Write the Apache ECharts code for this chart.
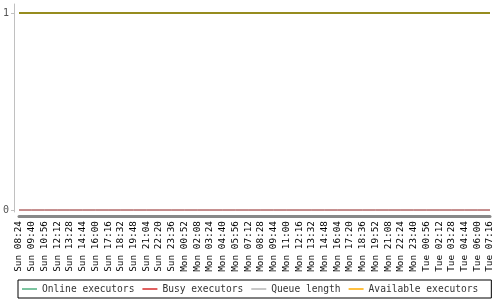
<!DOCTYPE html>
<html>
<head>
<meta charset="utf-8">
<script src="https://cdn.jsdelivr.net/npm/echarts@6/dist/echarts.min.js"></script>
<style>html,body{margin:0;padding:0;background:#fff}#c{width:500px;height:300px}</style>
</head>
<body>
<div id="c"></div>
<script>
const categories = ["Sun 08:24","Sun 09:40","Sun 10:56","Sun 12:12","Sun 13:28","Sun 14:44","Sun 16:00","Sun 17:16","Sun 18:32","Sun 19:48","Sun 21:04","Sun 22:20","Sun 23:36","Mon 00:52","Mon 02:08","Mon 03:24","Mon 04:40","Mon 05:56","Mon 07:12","Mon 08:28","Mon 09:44","Mon 11:00","Mon 12:16","Mon 13:32","Mon 14:48","Mon 16:04","Mon 17:20","Mon 18:36","Mon 19:52","Mon 21:08","Mon 22:24","Mon 23:40","Tue 00:56","Tue 02:12","Tue 03:28","Tue 04:44","Tue 06:00","Tue 07:16"];
const onlineExecutors = [1,1,1,1,1,1,1,1,1,1,1,1,1,1,1,1,1,1,1,1,1,1,1,1,1,1,1,1,1,1,1,1,1,1,1,1,1,1];
const busyExecutors = [0,0,0,0,0,0,0,0,0,0,0,0,0,0,0,0,0,0,0,0,0,0,0,0,0,0,0,0,0,0,0,0,0,0,0,0,0,0];
const queueLength = [0,0,0,0,0,0,0,0,0,0,0,0,0,0,0,0,0,0,0,0,0,0,0,0,0,0,0,0,0,0,0,0,0,0,0,0,0,0];
const availableExecutors = [1,1,1,1,1,1,1,1,1,1,1,1,1,1,1,1,1,1,1,1,1,1,1,1,1,1,1,1,1,1,1,1,1,1,1,1,1,1];
const yTicks = [0, 1];
const seriesNames = ["Online executors","Busy executors","Queue length","Available executors"];
const legendColors = ["#7cc4a0","#e06060","#c8c8c8","#ffc040"];

const mono = "DejaVu Sans Mono";
const chart = echarts.init(document.getElementById('c'), null, {renderer:'canvas'});
chart.setOption({
  animation: false,
  grid: {left: 19, right: 10, top: 4, bottom: 88, containLabel: false},
  xAxis: {
    type: 'category', boundaryGap: false, data: categories,
    offset: 4,
    axisLine: {show: true, onZero: false, lineStyle: {color: '#888', width: 3}},
    axisTick: {show: false},
    axisLabel: {interval: 0, rotate: 90, fontFamily: mono, fontSize: 9.4, color: '#000', margin: 5},
    splitLine: {show: false}
  },
  yAxis: {
    type: 'value', min: -0.01, max: 1.046, offset: 5,
    axisLine: {show: true, lineStyle: {color: '#c0c0c0', width: 1}},
    axisTick: {show: true, customValues: yTicks, length: 3, lineStyle: {color: '#c0c0c0'}},
    axisLabel: {customValues: yTicks, fontFamily: mono, fontSize: 10, color: '#555', margin: 5},
    splitLine: {show: false}
  },
  legend: {
    orient: 'horizontal',
    left: 18, bottom: 2, width: 474,
    data: seriesNames.map((n, i) => ({name: n, icon: 'rect', itemStyle: {color: legendColors[i]}})),
    itemWidth: 15, itemHeight: 2, itemGap: 8,
    borderColor: '#000', borderWidth: 1, borderRadius: 0,
    padding: [4, 13, 4, 4],
    textStyle: {fontFamily: mono, fontSize: 9.6, color: '#333'}
  },
  series: [
    {name: seriesNames[0], type: 'line', data: onlineExecutors, showSymbol: false, symbol: 'none', z: 2,
     lineStyle: {color: '#3c9a6e', width: 2}, itemStyle: {color: legendColors[0]}},
    {name: seriesNames[2], type: 'line', data: queueLength, showSymbol: false, symbol: 'none', z: 2,
     lineStyle: {color: '#a0a0a0', width: 1}, itemStyle: {color: legendColors[2]}},
    {name: seriesNames[1], type: 'line', data: busyExecutors, showSymbol: false, symbol: 'none', z: 3,
     lineStyle: {color: '#b84a4a', width: 1}, itemStyle: {color: legendColors[1]}},
    {name: seriesNames[3], type: 'line', data: availableExecutors, showSymbol: false, symbol: 'none', z: 3,
     lineStyle: {color: '#968c1e', width: 2}, itemStyle: {color: legendColors[3]}}
  ]
});
</script>
</body>
</html>
